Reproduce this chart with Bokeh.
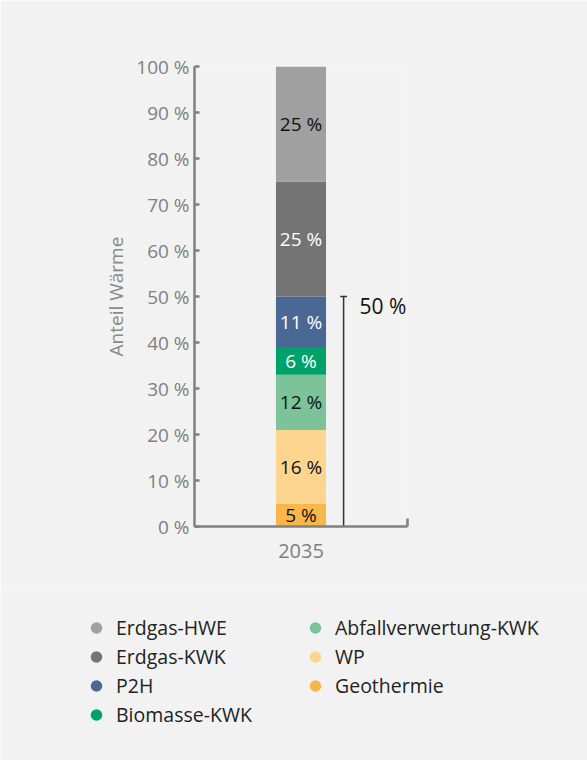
from bokeh.plotting import figure
from bokeh.layouts import column
from bokeh.models import Range1d, FixedTicker, Legend, LegendItem, ColumnDataSource
from bokeh.core.properties import value
from bokeh.embed import file_html
from bokeh.resources import INLINE

# ---- data ----
years = ["2035"]
series = ["Geothermie", "WP", "Abfallverwertung-KWK", "Biomasse-KWK", "P2H", "Erdgas-KWK", "Erdgas-HWE"]
shares = [5, 16, 12, 6, 11, 25, 25]
colors = ["#f8b74a", "#fdd58e", "#7cc39a", "#00a26a", "#4a6894", "#747474", "#a0a0a0"]
label_colors = ["#111111", "#111111", "#111111", "#ffffff", "#ffffff", "#ffffff", "#111111"]
renewable = ["Geothermie", "WP", "Abfallverwertung-KWK", "Biomasse-KWK", "P2H"]
legend_order = ["Erdgas-HWE", "Erdgas-KWK", "P2H", "Biomasse-KWK",
                "Abfallverwertung-KWK", "WP", "Geothermie"]
y_ticks = [0, 10, 20, 30, 40, 50, 60, 70, 80, 90, 100]
y_tick_labels = [f"{t} %" for t in y_ticks]
y_axis_title = "Anteil Wärme"

FONT = "Open Sans"
BG = "#f2f2f2"
AXIS = "#808080"

# ---- derived ----
x_pos = (0 + 0.5) / len(years)
bottoms, tops = [], []
acc = 0
for v in shares:
    bottoms.append(acc)
    acc += v
    tops.append(acc)
mids = [(b + t) / 2 for b, t in zip(bottoms, tops)]

src = ColumnDataSource(dict(
    x=[x_pos] * len(series), bottom=bottoms, top=tops, mid=mids,
    color=colors, lcolor=label_colors, name=series,
    lbl=[f"{v} %" for v in shares],
))

p = figure(width=587, height=590, output_backend="svg", toolbar_location=None,
           x_range=Range1d(0, 1), y_range=Range1d(0, 100),
           min_border_left=194, min_border_right=180, min_border_top=66,
           min_border_bottom=64)
p.background_fill_color = BG
p.border_fill_color = BG
p.outline_line_color = None
p.grid.visible = False

p.vbar(x="x", bottom="bottom", top="top", width=0.235, color="color",
       line_color=None, source=src)
p.text(x="x", y="mid", text="lbl", text_color="lcolor", text_align="center",
       text_baseline="middle", text_font=value(FONT), text_font_size="19px",
       source=src)

# bracket for renewable share
total_ren = sum(v for s, v in zip(series, shares) if s in renewable)
bx = 0.70
p.segment(x0=[bx], y0=[0], x1=[bx], y1=[total_ren], line_color="#333333", line_width=1.5)
p.segment(x0=[bx - 0.016], y0=[total_ren], x1=[bx + 0.016], y1=[total_ren],
          line_color="#333333", line_width=1.5)
p.text(x=[0.775], y=[total_ren], text=[f"{total_ren} %"], text_color="#111111",
       text_align="left", text_baseline="middle", y_offset=9,
       text_font=value(FONT), text_font_size="21px")

# y axis
ya = p.yaxis[0]
ya.ticker = FixedTicker(ticks=y_ticks)
ya.major_label_overrides = {t: l for t, l in zip(y_ticks, y_tick_labels)}
ya.major_tick_in = 5
ya.major_tick_out = 0
ya.minor_tick_line_color = None
ya.axis_line_color = AXIS
ya.axis_line_width = 2.5
ya.major_tick_line_color = AXIS
ya.major_tick_line_width = 2.5
ya.major_label_text_color = "#7f7f7f"
ya.major_label_text_font = FONT
ya.major_label_text_font_size = "19px"
ya.major_label_standoff = 5
ya.axis_label = y_axis_title
ya.axis_label_text_font = FONT
ya.axis_label_text_font_size = "19px"
ya.axis_label_text_font_style = "normal"
ya.axis_label_text_color = "#8a8a8a"
ya.axis_label_standoff = 4

# x axis
xa = p.xaxis[0]
xa.ticker = FixedTicker(ticks=[x_pos], minor_ticks=[1.0])
xa.major_label_overrides = {x_pos: years[0]}
xa.major_tick_in = 0
xa.major_tick_out = 0
xa.minor_tick_in = 8
xa.minor_tick_out = 0
xa.minor_tick_line_color = AXIS
xa.minor_tick_line_width = 2.5
xa.axis_line_color = AXIS
xa.axis_line_width = 2.5
xa.major_label_text_color = "#7f7f7f"
xa.major_label_text_font = FONT
xa.major_label_text_font_size = "20px"
xa.major_label_standoff = 17

# legend strip below the chart
pl = figure(width=587, height=170, output_backend="svg", toolbar_location=None,
            x_range=Range1d(0, 1), y_range=Range1d(0, 1),
            x_axis_location=None, y_axis_location=None, min_border=0)
pl.background_fill_color = BG
pl.border_fill_color = BG
pl.outline_line_color = None
pl.grid.visible = False

# keep the legend strip's frame independent of the chart's frame
for fig in (p, pl):
    try:
        fig.frame_align = False
    except (AttributeError, ValueError):
        pass

items = []
for name in legend_order:
    c = colors[series.index(name)]
    r = pl.scatter(x=[-10], y=[-10], marker="circle", size=14, fill_color=c, line_color=None)
    items.append(LegendItem(label=name, renderers=[r]))
legend = Legend(items=items, location=(78, 31), orientation="vertical", nrows=4,
                glyph_width=36, glyph_height=29, spacing=0, label_standoff=2,
                label_width=181, label_height=20, padding=10, margin=0,
                label_text_font=FONT, label_text_font_size="19.5px",
                label_text_color="#222222", background_fill_alpha=0,
                border_line_color=None)
pl.add_layout(legend, "center")

layout = column(p, pl, spacing=0)
open("out.html", "w").write(file_html(layout, INLINE))
